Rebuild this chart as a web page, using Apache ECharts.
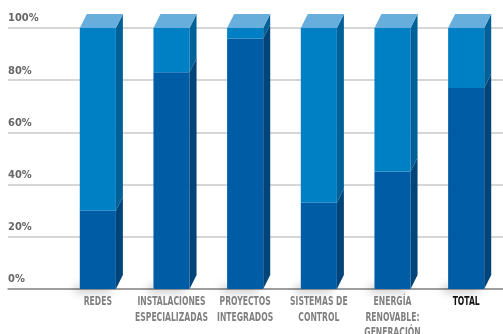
<!DOCTYPE html>
<html>
<head>
<meta charset="utf-8">
<script src="https://cdn.jsdelivr.net/npm/echarts@6/dist/echarts.min.js"></script>
<style>
 html, body { margin: 0; padding: 0; background: #fff; }
 #main { width: 503px; height: 334px; }
</style>
</head>
<body>
<div id="main"></div>
<script>
var categories = ['REDES', 'INSTALACIONES\nESPECIALIZADAS', 'PROYECTOS\nINTEGRADOS', 'SISTEMAS DE\nCONTROL', 'ENERGÍA\nRENOVABLE:\nGENERACIÓN', 'TOTAL'];
var darkShare = [30, 83, 96, 33, 45, 77];
var lightShare = [70, 17, 4, 67, 55, 23];

var font = '"DejaVu Sans", sans-serif';

// cara frontal, lateral y superior de cada tramo + etiqueta estrecha
var renderBar = function (params, api) {
    var i = api.value(0);
    var d = api.value(1);
    var l = api.value(2);
    var p0 = api.coord([i, 0]);
    var p1 = api.coord([i, d]);
    var p2 = api.coord([i, d + l]);
    var bw = api.size([1, 0])[0] * 0.49;
    var xl = p0[0] - bw / 2, xr = p0[0] + bw / 2;
    var dx = 7, dy = 14;
    var name = categories[params.dataIndex];
    var side = function (yt, yb, color) {
        return {
            type: 'polygon',
            shape: { points: [[xr, yt], [xr + dx, yt - dy], [xr + dx, yb - dy], [xr, yb]] },
            style: { fill: color }
        };
    };
    return {
        type: 'group',
        children: [
            {
                type: 'rect',
                shape: { x: xl, y: p0[1] - 4, width: bw, height: 4 },
                style: { fill: '#fff', shadowBlur: 10, shadowColor: 'rgba(0,0,0,0.4)', shadowOffsetX: -5, shadowOffsetY: 2 }
            },
            { type: 'rect', shape: { x: xl, y: p1[1], width: bw, height: p0[1] - p1[1] }, style: { fill: '#005ca5' } },
            side(p1[1], p0[1], '#00447a'),
            { type: 'rect', shape: { x: xl, y: p2[1], width: bw, height: p1[1] - p2[1] }, style: { fill: '#0080c4' } },
            side(p2[1], p1[1], '#006098'),
            {
                type: 'polygon',
                shape: { points: [[xl, p2[1]], [xl + dx, p2[1] - dy], [xr + dx, p2[1] - dy], [xr, p2[1]]] },
                style: { fill: '#68aedc' }
            },
            {
                type: 'text',
                x: p0[0], y: p0[1] + 5,
                scaleX: 0.68,
                style: {
                    text: name,
                    fill: name === 'TOTAL' ? '#111' : '#7f7f7f',
                    fontSize: 12.5, fontWeight: 'bold', fontStyle: 'condensed', fontFamily: font,
                    align: 'center', verticalAlign: 'top', lineHeight: 15.5
                }
            }
        ]
    };
};

option = {
    backgroundColor: '#fff',
    animation: false,
    grid: [
        { left: 8, right: 0, top: 28, bottom: 45, outerBoundsMode: 'none' },
        { left: 61, right: 0, top: 28, bottom: 45, outerBoundsMode: 'none' }
    ],
    xAxis: [
        {
            gridIndex: 0, type: 'value', min: 0, max: 1,
            axisLine: { show: true, lineStyle: { color: '#8c8c8c', width: 1.5 } },
            axisTick: { show: false }, axisLabel: { show: false }, splitLine: { show: false }
        },
        {
            gridIndex: 1, type: 'category', data: categories,
            axisLine: { show: false }, axisTick: { show: false }, axisLabel: { show: false }
        }
    ],
    yAxis: [
        {
            gridIndex: 0, type: 'value', min: 0, max: 100, interval: 20,
            axisLine: { show: false }, axisTick: { show: false },
            splitLine: { lineStyle: { color: '#c8c8c8', width: 1.5 } },
            axisLabel: {
                inside: true, margin: 0, verticalAlign: 'bottom', padding: [0, 0, 4, 0],
                formatter: '{value}%', fontSize: 11, fontStyle: 'condensed', fontWeight: 'bold', fontFamily: font, color: '#666'
            }
        },
        { gridIndex: 1, type: 'value', min: 0, max: 100, show: false }
    ],
    series: [
        {
            type: 'custom',
            xAxisIndex: 1,
            yAxisIndex: 1,
            clip: false,
            renderItem: renderBar,
            data: categories.map(function (c, i) {
                return [i, darkShare[i], lightShare[i]];
            })
        }
    ]
};

var myChart = echarts.init(document.getElementById('main'));
myChart.setOption(option);
</script>
</body>
</html>
